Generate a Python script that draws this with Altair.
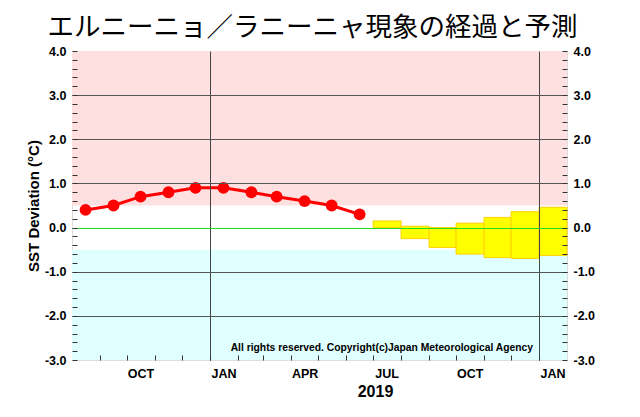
import altair as alt
import pandas as pd

# ---------------- data ----------------
title_text = "エルニーニョ／ラニーニャ現象の経過と予測"
y_title = "SST Deviation (°C)"
year_label = "2019"
copyright_text = "All rights reserved. Copyright(c)Japan Meteorological Agency"

obs_months = ["2018-08", "2018-09", "2018-10", "2018-11", "2018-12", "2019-01",
              "2019-02", "2019-03", "2019-04", "2019-05", "2019-06"]
obs_values = [0.4, 0.5, 0.7, 0.8, 0.9, 0.9, 0.8, 0.7, 0.6, 0.5, 0.3]

fc_months = ["2019-07", "2019-08", "2019-09", "2019-10", "2019-11", "2019-12", "2020-01"]
fc_low = [0.0, -0.25, -0.45, -0.6, -0.68, -0.7, -0.63]
fc_high = [0.15, 0.03, 0.0, 0.1, 0.23, 0.36, 0.46]

band_names = ["El Nino", "La Nina"]
band_low = [0.5, -3.0]
band_high = [4.0, -0.5]
band_colors = ["#ffe0e0", "#e0ffff"]

label_months = ["2018-10", "2019-01", "2019-04", "2019-07", "2019-10", "2020-01"]
grid_months = ["2019-01", "2020-01"]

# ---------------- tables ----------------
obs = pd.DataFrame({"mid": [m + "-16T00:00:00" for m in obs_months], "value": obs_values})
fc_start = pd.to_datetime([m + "-01" for m in fc_months])
fc_end = fc_start + pd.offsets.MonthBegin(1)
fc = pd.DataFrame({
    "start": fc_start.strftime("%Y-%m-%dT00:00:00"),
    "end": fc_end.strftime("%Y-%m-%dT00:00:00"),
    "low": fc_low, "high": fc_high,
})
bands = pd.DataFrame({"name": band_names, "low": band_low, "high": band_high})
note = pd.DataFrame({"t": [copyright_text]})


def dt(s, day=1):
    y, m = s.split("-")
    return alt.DateTime(year=int(y), month=int(m), date=day)


x_scale = alt.Scale(domain=[alt.DateTime(year=2018, month=8, date=1),
                            alt.DateTime(year=2020, month=2, date=1)])
y_scale = alt.Scale(domain=[-3, 4], nice=False, zero=False)

month_starts = [dt(d.strftime("%Y-%m")) for d in pd.date_range("2018-09-01", "2020-01-01", freq="MS")]
y_minor = [round(-3 + 0.2 * i, 1) for i in range(36)]
y_major = [-2, -1, 0, 1, 2, 3]

y_label_expr = ("abs(datum.value - round(datum.value)) > 0.01 ? '' : "
                "(datum.value < 0 ? '-' : '') + format(abs(datum.value), '.1f')")

LF = dict(labelFont="Liberation Sans", labelFontWeight="bold", labelFontSize=12.5,
          labelColor="black", tickColor="#333333", tickWidth=1)

# ---------------- layers ----------------
band_layer = alt.Chart(bands).mark_rect().encode(
    x=alt.value(0),
    x2=alt.value("width"),
    y=alt.Y("low:Q", scale=y_scale,
            axis=alt.Axis(orient="left", offset=-5, values=y_minor, tickSize=5,
                          labelPadding=6, domain=False, grid=False,
                          labelExpr=y_label_expr, labelOverlap=False, zindex=1,
                          title=y_title, titleFont="Liberation Sans", titleFontWeight="bold",
                          titleColor="black", titleFontSize=15, titlePadding=3, **LF)),
    y2="high:Q",
    color=alt.Color("name:N", scale=alt.Scale(domain=band_names, range=band_colors), legend=None),
)

box_layer = alt.Chart(fc).mark_rect(color="#ffff00", stroke="#ffd000", strokeWidth=1, opacity=1).encode(
    x=alt.X("start:T", scale=x_scale,
            axis=alt.Axis(orient="bottom", values=[dt(m, 16) for m in label_months],
                          labelExpr="upper(timeFormat(datum.value, '%b'))",
                          ticks=False, domain=False, grid=False, labelPadding=7,
                          labelFlush=False, labelOverlap=False,
                          title=year_label, titleX=303, titlePadding=4, titleFontSize=16,
                          titleFont="Liberation Sans", titleFontWeight="bold", titleColor="black",
                          **LF)),
    x2="end:T",
    y=alt.Y("low:Q", scale=y_scale,
            axis=alt.Axis(orient="right", offset=-5, values=y_minor, tickSize=5,
                          labelPadding=6, domain=False, grid=False, zindex=1,
                          labelExpr=y_label_expr, labelOverlap=False, title=None, **LF)),
    y2="high:Q",
)

line_layer = alt.Chart(obs).mark_line(color="#ff0000", strokeWidth=3).encode(
    x=alt.X("mid:T", scale=x_scale,
            axis=alt.Axis(orient="bottom", offset=-5, values=month_starts, tickSize=5,
                          labels=False, domain=False, grid=False, title=None, zindex=1,
                          tickColor="#333333")),
    y=alt.Y("value:Q", scale=y_scale,
            axis=alt.Axis(orient="left", values=y_major, grid=True,
                          gridColor=alt.condition("datum.value === 0", alt.value("#22dd22"), alt.value("#555555")),
                          gridWidth=1, ticks=False, labels=False, domain=False,
                          title=None, zindex=1)),
)

point_layer = alt.Chart(obs).mark_circle(color="#ff0000", size=140, opacity=1).encode(
    x=alt.X("mid:T", scale=x_scale,
            axis=alt.Axis(orient="bottom", values=[dt(m) for m in grid_months], grid=True,
                          gridColor="#444444", gridWidth=1, ticks=False, labels=False,
                          domain=False, title=None, zindex=1)),
    y=alt.Y("value:Q", scale=y_scale, axis=None),
)

note_layer = alt.Chart(note).mark_text(
    align="right", baseline="middle", font="Liberation Sans", fontWeight="bold",
    fontSize=10.3, color="black"
).encode(x=alt.value(461), y=alt.value(297), text="t:N")

chart = alt.layer(band_layer, box_layer, line_layer, point_layer, note_layer).resolve_axis(
    x="independent", y="independent"
).properties(
    width=495,
    height=309,
    autosize=alt.AutoSizeParams(type="none"),
    padding={"left": 72, "top": 51, "right": 73, "bottom": 57},
    title=alt.Title(title_text, font="Noto Sans CJK JP", fontSize=26.5, fontWeight="normal",
                    color="black", anchor="middle", offset=4, dx=-7),
).configure_view(
    stroke="black", strokeWidth=1.2
).configure(background="white")

chart.save("out.html", embed_options={"renderer": "svg", "actions": False})
